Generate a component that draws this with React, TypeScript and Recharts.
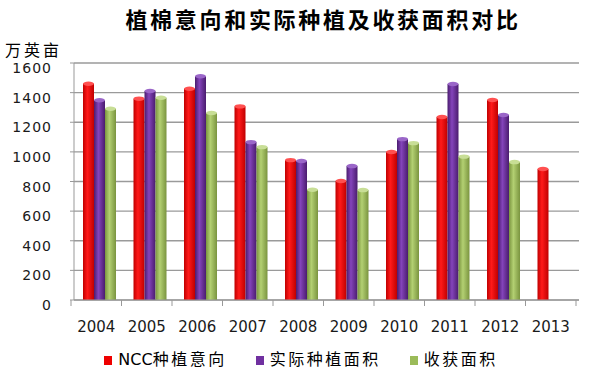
import React from 'react';
import { BarChart, Bar, XAxis, YAxis, CartesianGrid } from 'recharts';

const categories = ['2004', '2005', '2006', '2007', '2008', '2009', '2010', '2011', '2012', '2013'];
const nccIntent = [1475, 1374, 1441, 1322, 959, 818, 1014, 1250, 1365, 899];
const planted: (number | null)[] = [1363, 1426, 1525, 1081, 953, 919, 1101, 1473, 1264, null];
const harvested: (number | null)[] = [1306, 1380, 1277, 1047, 759, 757, 1074, 983, 946, null];
const yTicks = [0, 200, 400, 600, 800, 1000, 1200, 1400, 1600];
const seriesNames = ['NCC种植意向', '实际种植面积', '收获面积'];
const seriesKeys = ['ncc', 'planted', 'harvested'];
const titleText = '植棉意向和实际种植及收获面积对比';
const unitText = '万英亩';

const data = categories.map((c, i) => ({
  year: c,
  ncc: nccIntent[i],
  planted: planted[i],
  harvested: harvested[i],
}));

const W = 590;
const H = 373;
const MARGIN = { top: 63, right: 11, bottom: 43, left: 0 };
const Y_W = 74;
const PLOT_W = W - MARGIN.left - MARGIN.right - Y_W;
const BAND = PLOT_W / categories.length;

const palette = [
  { id: 'gRed', edge: '#c00000', mid: '#ff1a1a', top: '#ff5050', legend: '#ee0000' },
  { id: 'gPur', edge: '#4a1c6e', mid: '#8444bb', top: '#9a66c8', legend: '#7030a0' },
  { id: 'gGrn', edge: '#7a943f', mid: '#b3d072', top: '#c8de96', legend: '#9bbb59' },
];

const makeShape = (idx: number) => (props: any) => {
  const { x, y, width, height } = props;
  if (height == null || height <= 0 || isNaN(height)) return <g />;
  const p = palette[idx];
  const ry = 2.2;
  return (
    <g>
      <rect x={x} y={y + ry} width={width} height={height - ry} fill={`url(#${p.id})`} />
      <ellipse cx={x + width / 2} cy={y + ry} rx={width / 2} ry={ry} fill={p.top} />
    </g>
  );
};

const YTick = (props: any) => {
  const { x, y, payload } = props;
  return (
    <text
      x={x}
      y={y + 5}
      textAnchor="end"
      dominantBaseline="central"
      fontFamily="DejaVu Sans"
      fontSize={14}
      letterSpacing={1}
      fill="#1a1a1a"
    >
      {payload.value}
    </text>
  );
};

const XTick = (props: any) => {
  const { x, y, payload, index } = props;
  const left = x - BAND / 2 - 3;
  const isLast = index === categories.length - 1;
  return (
    <g>
      <line x1={left} y1={y} x2={left} y2={y + 6} stroke="#999" strokeWidth={1} />
      {isLast && <line x1={left + BAND} y1={y} x2={left + BAND} y2={y + 6} stroke="#999" strokeWidth={1} />}
      <text
        x={x - 3}
        y={y + 27}
        textAnchor="middle"
        dominantBaseline="central"
        fontFamily="DejaVu Sans"
        fontSize={15}
        fill="#1a1a1a"
      >
        {payload.value}
      </text>
    </g>
  );
};

const splitLatin = (s: string) => s.split(/([A-Za-z]+)/).filter((t) => t.length > 0);

export default function App() {
  return (
    <div style={{ position: 'absolute', left: 0, top: 0, width: W, height: H, background: '#fff' }}>
      <div
        style={{
          position: 'absolute',
          left: 0,
          width: W,
          top: 3,
          textAlign: 'center',
          paddingLeft: 56,
          boxSizing: 'border-box',
          fontFamily: '"Noto Sans CJK SC"',
          fontWeight: 700,
          fontSize: 22,
          letterSpacing: 2.7,
          lineHeight: '30px',
          color: '#000',
        }}
      >
        {titleText}
      </div>
      <div
        style={{
          position: 'absolute',
          left: 5,
          top: 38,
          fontFamily: '"Noto Sans CJK SC"',
          fontSize: 16,
          letterSpacing: 3,
          lineHeight: '22px',
          color: '#000',
        }}
      >
        {unitText}
      </div>
      <BarChart width={W} height={H} data={data} margin={MARGIN} barGap={0} barSize={11}>
        <defs>
          {palette.map((p) => (
            <linearGradient key={p.id} id={p.id} x1="0" y1="0" x2="1" y2="0">
              <stop offset="0%" stopColor={p.edge} />
              <stop offset="40%" stopColor={p.mid} />
              <stop offset="100%" stopColor={p.edge} />
            </linearGradient>
          ))}
        </defs>
        <CartesianGrid vertical={false} stroke="#9a9a9a" strokeWidth={1.3} />
        <XAxis
          dataKey="year"
          axisLine={{ stroke: '#999' }}
          tickLine={false}
          tickSize={0}
          tickMargin={0}
          tick={<XTick />}
          interval={0}
        />
        <YAxis
          width={Y_W}
          domain={[0, 1600]}
          ticks={yTicks}
          axisLine={{ stroke: '#999' }}
          tickLine={{ stroke: '#999' }}
          tickSize={4}
          tickMargin={18}
          tick={<YTick />}
          interval={0}
        />
        {seriesKeys.map((k, i) => (
          <Bar key={k} dataKey={k} name={seriesNames[i]} isAnimationActive={false} shape={makeShape(i)} />
        ))}
      </BarChart>
      <div
        style={{
          position: 'absolute',
          left: 0,
          width: W,
          top: 349,
          paddingLeft: 12,
          boxSizing: 'border-box',
          display: 'flex',
          justifyContent: 'center',
          alignItems: 'center',
          gap: 29,
        }}
      >
        {seriesNames.map((n, i) => (
          <div key={n} style={{ display: 'flex', alignItems: 'center' }}>
            <span style={{ width: 8, height: 9, background: palette[i].legend, display: 'inline-block', marginRight: 6 }} />
            <span
              style={{
                fontFamily: '"DejaVu Sans", "Noto Sans CJK SC"',
                fontSize: 16,
                lineHeight: '22px',
                color: '#000',
              }}
            >
              {splitLatin(n).map((part, j) => (
                <span key={j} style={{ letterSpacing: /[A-Za-z]/.test(part) ? 0 : 2.5 }}>
                  {part}
                </span>
              ))}
            </span>
          </div>
        ))}
      </div>
    </div>
  );
}
